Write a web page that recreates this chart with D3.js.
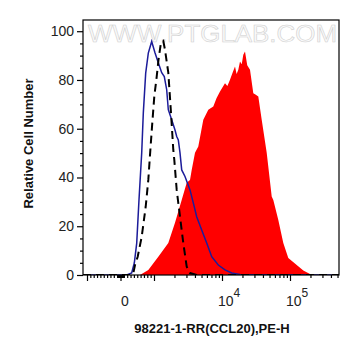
<!DOCTYPE html>
<html>
<head>
<meta charset="utf-8">
<script src="https://cdn.jsdelivr.net/npm/d3@7"></script>
<style>
  html, body { margin: 0; padding: 0; background: #ffffff; }
  svg { display: block; }
  text { font-family: "Liberation Sans", Arial, sans-serif; }
</style>
</head>
<body>
<svg id="chart" width="361" height="356"></svg>
<script>
// ---------------- data ----------------
// Blue (solid) histogram: fluorescence value, relative cell number
const blueX = [-1119, -15, 185, 334, 412, 484, 552, 633, 681, 752, 830, 931, 1034, 1157, 1298, 1417, 1537, 1623, 1821, 2036, 2157, 2277, 2412, 2555, 2857, 3383, 3784, 4246, 5028, 5957, 7057, 8823, 11070, 13890, 18400, 525000];
const blueY = [0, 0, 0, 0.8, 4.9, 13.1, 30.8, 50.1, 66.5, 82.8, 91.0, 95.8, 91.2, 87.1, 83.0, 81.4, 76.0, 67.8, 63.7, 59.5, 56.8, 55.4, 50.1, 43.1, 40.4, 34.9, 29.6, 23.9, 18.5, 13.1, 7.5, 4.1, 2.1, 0.8, 0.2, 0];

// Black dashed histogram
const dashX = [-1119, 300, 382, 433, 513, 633, 752, 830, 881, 949, 1010, 1096, 1165, 1267, 1370, 1451, 1623, 1778, 1922, 1989, 2157, 2412, 2697, 3027, 3383, 4246, 525000];
const dashY = [0, 0, 0.7, 4.1, 7.5, 15.7, 28.0, 39.0, 49.3, 62.4, 73.2, 81.4, 88.3, 95.4, 96.0, 92.4, 83.0, 66.5, 51.3, 47.2, 34.9, 23.9, 13.1, 3.4, 0.8, 0, 0];

// Red filled histogram
const redX = [-1119, 582, 830, 1157, 1623, 2036, 2555, 3027, 3383, 3584, 4009, 4482, 5309, 6288, 7448, 8300, 9346, 11070, 12000, 13110, 14300, 15530, 16400, 17370, 18400, 19500, 20570, 21790, 23500, 25810, 28860, 31000, 34190, 38360, 45440, 53820, 56820, 67310, 79710, 94400, 125500, 156900, 196800, 247000, 525000];
const redY = [0, 0, 2.1, 7.5, 13.1, 21.4, 30.8, 37.8, 39.0, 43.1, 50.1, 52.7, 63.7, 67.8, 69.1, 72.5, 75.3, 78.7, 77.5, 80.1, 83.0, 85.5, 82.5, 84.2, 87.6, 86.5, 90.3, 91.7, 86.0, 84.2, 74.6, 74.0, 73.2, 63.7, 50.1, 32.2, 30.8, 22.6, 13.1, 7.0, 4.1, 1.8, 0.4, 0, 0];

// Axis ticks and labels
const yMajorTicks = [0, 20, 40, 60, 80, 100];
const yMinorTicks = [5, 10, 15, 25, 30, 35, 45, 50, 55, 65, 70, 75, 85, 90, 95];
const xMajorTicks = [-1000, 0, 1000, 10000, 100000];
const xMinorTicks = [
  -900, -800, -700, -600, -500, -400, -300, -200, -100,
  -90, -80, -70, -60, -50, -40, -30, -20, -10,
  10, 20, 30, 40, 50, 60, 70, 80, 90,
  100, 200, 300, 400, 500, 600, 700, 800, 900,
  2000, 3000, 4000, 5000, 6000, 7000, 8000, 9000,
  20000, 30000, 40000, 50000, 60000, 70000, 80000, 90000,
  200000, 300000, 400000, 500000
];
const xLabelValues = [0, 10000, 100000];
const xLabelBases = ["0", "10", "10"];
const xLabelExps = ["", "4", "5"];

const xTitle = "98221-1-RR(CCL20),PE-H";
const yTitle = "Relative Cell Number";
const watermark = "WWW.PTGLAB.COM";

// ---------------- layout ----------------
const plot = { left: 83, right: 339, top: 20, bottom: 275 };
const xDomain = [-1119, 525000];

// Biexponential-like display: linear around zero, logarithmic above 10^3
const linPart = d3.scaleLinear().domain([-1000, 1000]).range([87, 154]);
const logPart = d3.scaleLog().domain([1000, 100000]).range([154, 290]);
function x(v) { return v <= 1000 ? linPart(v) : logPart(v); }
x.domain = () => xDomain;
x.range = () => [plot.left, plot.right];
x.copy = () => x;

const y = d3.scaleLinear().domain([0, 104.6]).range([plot.bottom, plot.top]);

const svg = d3.select("#chart");

// watermark
svg.append("text")
  .attr("x", 88).attr("y", 41.5)
  .attr("textLength", 249)
  .attr("lengthAdjust", "spacingAndGlyphs")
  .attr("font-size", 23)
  .attr("fill", "#fafafa")
  .attr("stroke", "#cfcfcf")
  .attr("stroke-width", 0.55)
  .text(watermark);

// clip
svg.append("clipPath").attr("id", "clip")
  .append("rect")
  .attr("x", plot.left).attr("y", plot.top)
  .attr("width", plot.right - plot.left).attr("height", plot.bottom - plot.top);

const g = svg.append("g").attr("clip-path", "url(#clip)");

const toPts = (xs, ys) => xs.map((v, i) => [v, ys[i]]);

const area = d3.area().x(d => x(d[0])).y0(y(0)).y1(d => y(d[1]));
const line = d3.line().x(d => x(d[0])).y(d => y(d[1]));

g.append("path").datum(toPts(redX, redY))
  .attr("d", area).attr("fill", "#ff0000").attr("stroke", "none");

g.append("path").datum(toPts(blueX, blueY))
  .attr("d", line).attr("fill", "none")
  .attr("stroke", "#1c1c9a").attr("stroke-width", 1.5);

g.append("path").datum(toPts(dashX, dashY))
  .attr("d", line).attr("fill", "none")
  .attr("stroke", "#000000").attr("stroke-width", 2)
  .attr("stroke-dasharray", "8,5");

// frame
svg.append("rect")
  .attr("x", plot.left).attr("y", plot.top)
  .attr("width", plot.right - plot.left).attr("height", plot.bottom - plot.top)
  .attr("fill", "none").attr("stroke", "#000").attr("stroke-width", 1.2);

// y axis
const yAxisMajor = d3.axisLeft(y).tickValues(yMajorTicks).tickSize(6).tickPadding(3).tickFormat(d3.format("d"));
const yAxisMinor = d3.axisLeft(y).tickValues(yMinorTicks).tickSize(3).tickFormat("");
const ya = svg.append("g").attr("transform", `translate(${plot.left},0)`).call(yAxisMajor);
const ym = svg.append("g").attr("transform", `translate(${plot.left},0)`).call(yAxisMinor);
[ya, ym].forEach(s => { s.select(".domain").remove(); s.selectAll("line").attr("stroke", "#000").attr("stroke-width", 1.2); });
ya.selectAll("text").attr("font-size", 14).attr("fill", "#222")
  .attr("font-family", "'Liberation Sans', Arial, sans-serif");

// x axis
const xAxisMajor = d3.axisBottom(x).tickValues(xMajorTicks).tickSize(6).tickFormat("");
const xAxisMinor = d3.axisBottom(x).tickValues(xMinorTicks).tickSize(3).tickFormat("");
const xa = svg.append("g").attr("transform", `translate(0,${plot.bottom})`).call(xAxisMajor);
const xm = svg.append("g").attr("transform", `translate(0,${plot.bottom})`).call(xAxisMinor);
[xa, xm].forEach(s => { s.select(".domain").remove(); s.selectAll("line").attr("stroke", "#000").attr("stroke-width", 1.2); });

// x tick labels (with superscripts)
xLabelValues.forEach((v, i) => {
  const t = svg.append("text")
    .attr("y", 306)
    .attr("font-size", 14).attr("fill", "#222");
  if (xLabelExps[i] === "") {
    t.attr("x", x(v) + 4.5).attr("text-anchor", "middle").text(xLabelBases[i]);
  } else {
    t.attr("x", x(v) - 4).attr("text-anchor", "start");
    t.append("tspan").text(xLabelBases[i]);
    t.append("tspan").attr("dy", -9).attr("font-size", 12).text(xLabelExps[i]);
  }
});

// titles
svg.append("text")
  .attr("x", 212).attr("y", 333)
  .attr("text-anchor", "middle")
  .attr("font-size", 13).attr("font-weight", "bold").attr("fill", "#111")
  .text(xTitle);

svg.append("text")
  .attr("transform", `translate(33,${(plot.top + plot.bottom) / 2 - 4}) rotate(-90)`)
  .attr("text-anchor", "middle")
  .attr("font-size", 13).attr("font-weight", "bold").attr("fill", "#111")
  .text(yTitle);
</script>
</body>
</html>
